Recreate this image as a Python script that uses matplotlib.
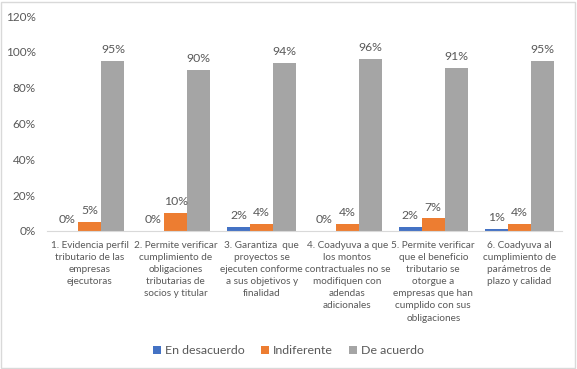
import numpy as np
import matplotlib
matplotlib.use("Agg")
import matplotlib.pyplot as plt
from matplotlib.patches import Rectangle

plt.rcParams['font.family'] = ['Lato', 'DejaVu Sans']

categorias = [
    "1. Evidencia perfil\ntributario de las\nempresas\nejecutoras",
    "2. Permite verificar\ncumplimiento de\nobligaciones\ntributarias de\nsocios y titular",
    "3. Garantiza  que\nproyectos se\nejecuten conforme\na sus objetivos y\nfinalidad",
    "4. Coadyuva a que\nlos montos\ncontractuales no se\nmodifiquen con\nadendas\nadicionales",
    "5. Permite verificar\nque el beneficio\ntributario se\notorgue a\nempresas que han\ncumplido con sus\nobligaciones",
    "6. Coadyuva al\ncumplimiento de\nparámetros de\nplazo y calidad",
]
en_desacuerdo = [0, 0, 2, 0, 2, 1]
indiferente = [5, 10, 4, 4, 7, 4]
de_acuerdo = [95, 90, 94, 96, 91, 95]
series = ["En desacuerdo", "Indiferente", "De acuerdo"]
colores = ["#4472C4", "#ED7D31", "#A5A5A5"]
txt = "#595959"

fig = plt.figure(figsize=(5.77, 3.69), dpi=100)
ax = fig.add_axes([0.0815, 0.374, 0.8925, 0.5826])

x = np.arange(len(categorias))
w = 0.268
for i, (vals, name, c) in enumerate(zip([en_desacuerdo, indiferente, de_acuerdo], series, colores)):
    pos = x + (i - 1) * w
    bars = ax.bar(pos, vals, w, color=c, label=name)
    for p, v in zip(pos, vals):
        ax.text(p, v + 3.3, f"{v}%", ha="center", va="bottom", fontsize=8.8, color=txt)

ax.set_xlim(-0.5, len(categorias) - 0.5)
ax.set_ylim(0, 120)
ax.set_yticks(range(0, 121, 20))
ax.set_yticklabels([f"{t}%" for t in range(0, 121, 20)], fontsize=8.5, color=txt)
ax.set_xticks(x)
ax.set_xticklabels(categorias, fontsize=7.2, color=txt, linespacing=1.45, va="top")
ax.tick_params(axis="both", length=0)
ax.tick_params(axis="x", pad=7)
ax.tick_params(axis="y", pad=8)
for s in ["top", "right", "left"]:
    ax.spines[s].set_visible(False)
ax.spines["bottom"].set_color("#D9D9D9")

leg = fig.legend(loc="center", bbox_to_anchor=(0.5, 0.05), ncol=3, frameon=False,
                 fontsize=8.9, handlelength=0.65, handleheight=0.65, handletextpad=0.35,
                 columnspacing=1.3)
for t in leg.get_texts():
    t.set_color(txt)

fig.patches.append(Rectangle((0.002, 0.003), 0.994, 0.992, transform=fig.transFigure,
                             fill=False, edgecolor="#D9D9D9", linewidth=1))

fig.savefig("out.png", dpi=100)
